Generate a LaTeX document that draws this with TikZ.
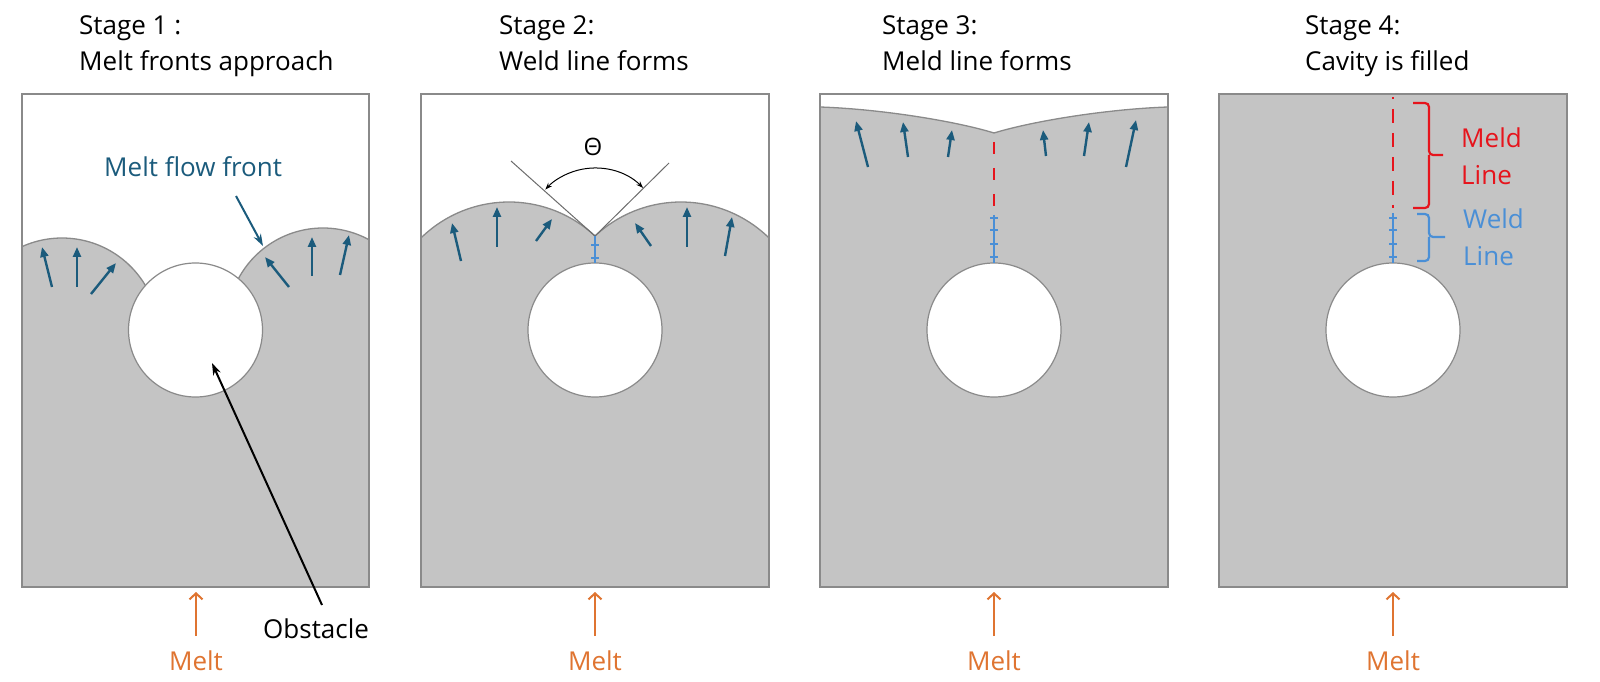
\documentclass[tikz,border=0pt]{standalone}
\usepackage{fontspec}
\setmainfont{Open Sans}
\usetikzlibrary{arrows.meta}
\definecolor{fillg}{HTML}{C4C4C4}
\definecolor{edgeg}{HTML}{8A8A8A}
\definecolor{flowblue}{HTML}{1B5B7C}
\definecolor{weldblue}{HTML}{4A8FD6}
\definecolor{meldred}{HTML}{E6141C}
\definecolor{meltorange}{HTML}{DF7431}
\begin{document}
\begin{tikzpicture}[x=1pt,y=1pt,
  txt/.style={font=\fontsize{26}{31}\selectfont, inner sep=0pt},
  panelbox/.style={draw=edgeg, line width=1.2pt},
  frontline/.style={draw=edgeg, line width=1.3pt},
  obst/.style={fill=white, draw=edgeg, line width=1.2pt},
  flow/.style={flowblue, line width=2.4pt, -{Triangle[length=10pt,width=8pt]}},
  weldl/.style={weldblue, line width=1.8pt},
  meldl/.style={meldred, line width=2.4pt},
  brace/.style={line width=2.2pt, rounded corners=4pt},
  meltarr/.style={meltorange, line width=2pt, -{Straight Barb[length=6pt,width=13pt]}},
  vline/.style={draw=gray!85!black, line width=1pt},
  pointer/.style={line width=2pt, -{Stealth[length=12pt,width=8pt]}}
]
\useasboundingbox (0,0) rectangle (1600,681);

% ---------------- titles
\node[txt, anchor=base west] (t1a) at (79,646) {Stage 1 :};
\node[txt, anchor=base west] (t1b) at (79,610) {Melt fronts approach};
\node[txt, anchor=base west] (t2a) at (499,646) {Stage 2:};
\node[txt, anchor=base west] (t2b) at (499,610) {Weld line forms};
\node[txt, anchor=base west] (t3a) at (882,646) {Stage 3:};
\node[txt, anchor=base west] (t3b) at (882,610) {Meld line forms};
\node[txt, anchor=base west] (t4a) at (1305,646) {Stage 4:};
\node[txt, anchor=base west] (t4b) at (1305,610) {Cavity is filled};

% ---------------- panel 1
\begin{scope}
  \clip (22,94) rectangle (369,587);
  \fill[fillg] (22,94) rectangle (369,351);
  \fill[fillg] (62,346) circle[radius=97];
  \fill[fillg] (323,357) circle[radius=96];
  \draw[frontline] (62,346) ++(120:97) arc[start angle=120,end angle=25,radius=97];
  \draw[frontline] (323,357) ++(155:96) arc[start angle=155,end angle=55,radius=96];
\end{scope}
\draw[obst] (195.5,351) circle[radius=67];
\coordinate (obs1) at (212,318);
\draw[panelbox] (22,94) rectangle (369,587);
\draw[flow] (52,394) -- (42,434);
\draw[flow] (77,394) -- (77,434);
\draw[flow] (91,387) -- (116,418);
\draw[flow] (289,394) -- (265,424);
\draw[flow] (312,405) -- (312,444);
\draw[flow] (340,406) -- (349,446);
\node[txt, anchor=base west, text=flowblue] (mff) at (104,504) {Melt flow front};
\coordinate (mffstart) at (236,485);
\coordinate (front1) at (263,435);
\draw[pointer, flowblue] (mffstart) -- (front1);
\node[txt, anchor=base west] (obstacle) at (263,43) {Obstacle};
\coordinate (obsstart) at (322,76);
\draw[pointer, black] (obsstart) -- (obs1);

% ---------------- panel 2
\begin{scope}
  \clip (421,94) rectangle (769,587);
  \fill[fillg] (421,94) rectangle (769,353.3);
  \fill[fillg] (509,353.3) circle[radius=125.7];
  \fill[fillg] (681,353.3) circle[radius=125.7];
  \draw[frontline] (509,353.3) ++(140:125.7) arc[start angle=140,end angle=46.8,radius=125.7];
  \draw[frontline] (681,353.3) ++(133.2:125.7) arc[start angle=133.2,end angle=40,radius=125.7];
\end{scope}
\draw[obst] (595,351) circle[radius=67];
\draw[panelbox] (421,94) rectangle (769,587);
\coordinate (cusp2) at (595,445);
\coordinate (vl) at (511,520);
\coordinate (vr) at (669,518);
\draw[vline] (vl) -- (cusp2) -- (vr);
\draw[black, line width=1pt, {Stealth[length=7pt,width=5pt]}-{Stealth[length=7pt,width=5pt]}]
  (cusp2) ++(45:68) arc[start angle=45,end angle=137,radius=68];
\node[font=\fontsize{24}{28}\selectfont, inner sep=0pt] (theta) at (593,534) {Θ};
\draw[weldl] (cusp2) -- (595,418);
\foreach \yy in {436,423} \draw[weldl] (591,\yy) -- (599,\yy);
\draw[flow] (461,420) -- (452,458);
\draw[flow] (497,434) -- (497,474);
\draw[flow] (536,440) -- (552,462);
\draw[flow] (651,435) -- (635,458);
\draw[flow] (687,434) -- (687,474);
\draw[flow] (725,425) -- (732,464);

% ---------------- panel 3
\fill[fillg] (820,94) -- (820,574) .. controls (880,572) and (955,560) .. (994,548)
  .. controls (1033,560) and (1108,572) .. (1168,574) -- (1168,94) -- cycle;
\draw[frontline] (820,574) .. controls (880,572) and (955,560) .. (994,548)
  .. controls (1033,560) and (1108,572) .. (1168,574);
\draw[obst] (994,351) circle[radius=67];
\draw[panelbox] (820,94) rectangle (1168,587);
\draw[meldl, dash pattern=on 12pt off 14pt] (994,539) -- (994,466);
\draw[weldl] (994,466) -- (994,418);
\foreach \yy in {463,451,437,424} \draw[weldl] (990,\yy) -- (998,\yy);
\draw[flow] (868,514) -- (856,560);
\draw[flow] (908,524) -- (903,559);
\draw[flow] (948,524) -- (952,551);
\draw[flow] (1046,525) -- (1043,551);
\draw[flow] (1084,525) -- (1089,559);
\draw[flow] (1126,514) -- (1136,561);

% ---------------- panel 4
\fill[fillg] (1219,94) rectangle (1567,587);
\draw[obst] (1393,351) circle[radius=67];
\draw[panelbox] (1219,94) rectangle (1567,587);
\draw[meldl, dash pattern=on 14pt off 10pt, dash phase=12pt] (1393,584) -- (1393,473);
\draw[weldl] (1393,468) -- (1393,418);
\foreach \yy in {463,451,437,424} \draw[weldl] (1389,\yy) -- (1397,\yy);
\draw[brace, meldred] (1413,578) -- (1429,578) -- (1429,526) -- (1443,526);
\draw[brace, meldred] (1429,526) -- (1429,473) -- (1413,473);
\draw[brace, weldblue] (1417,467) -- (1429,467) -- (1429,444) -- (1445,444);
\draw[brace, weldblue] (1429,444) -- (1429,420) -- (1417,420);
\node[txt, anchor=base west, text=meldred] (meld) at (1461,533) {Meld};
\node[txt, anchor=base west, text=meldred] (meldline) at (1461,496) {Line};
\node[txt, anchor=base west, text=weldblue] (weld) at (1463,452) {Weld};
\node[txt, anchor=base west, text=weldblue] (weldline) at (1463,415) {Line};

% ---------------- melt inlets
\foreach \cx/\nm in {196/1,595/2,994/3,1393/4}{
  \node[txt, anchor=base, text=meltorange] (melt\nm) at (\cx,11) {Melt};
  \coordinate (inS\nm) at (\cx,45);
  \coordinate (inE\nm) at (\cx,89);
  \draw[meltarr] (inS\nm) -- (inE\nm);
}
\end{tikzpicture}
\end{document}
